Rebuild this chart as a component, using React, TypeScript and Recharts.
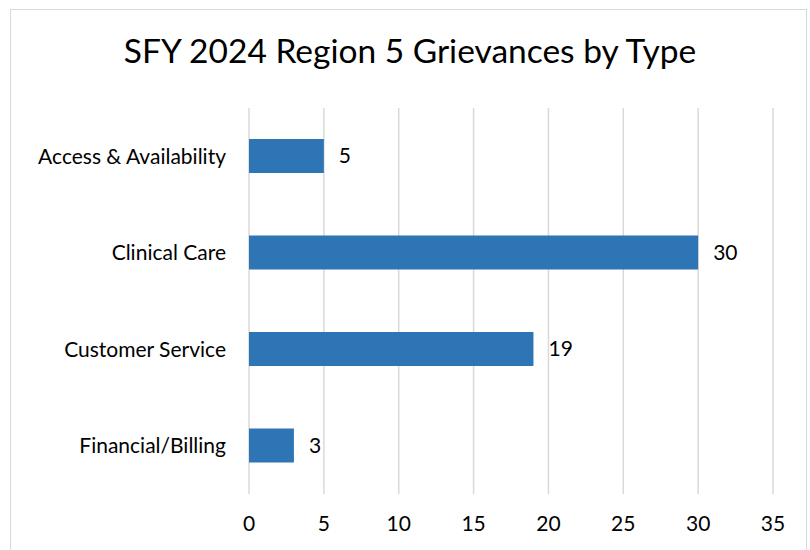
import { Bar, BarChart, CartesianGrid, LabelList, XAxis, YAxis } from 'recharts';

const categories = ['Access & Availability', 'Clinical Care', 'Customer Service', 'Financial/Billing'];
const grievances = [5, 30, 19, 3];
const xTicks = [0, 5, 10, 15, 20, 25, 30, 35];

const data = categories.map((type, i) => ({ type, count: grievances[i] }));

const FONT = 'Lato, "Open Sans", sans-serif';

export default function App() {
  return (
    <div style={{ position: 'absolute', left: 0, top: 0, width: 810, height: 550, overflow: 'hidden', background: '#fff', fontFamily: FONT }}>
      <div style={{ position: 'absolute', left: 10, top: 9, width: 797, height: 560, border: '1.5px solid #d9d9d9', boxSizing: 'border-box' }} />
      <div style={{ position: 'absolute', left: 0, top: 30, width: 820, textAlign: 'center', fontSize: 33.5, color: '#000' }}>
        SFY 2024 Region 5 Grievances by Type
      </div>
      <div style={{ position: 'absolute', left: 0, top: 0 }}>
        <BarChart
          width={810}
          height={550}
          data={data}
          layout="vertical"
          margin={{ top: 108, right: 37, left: 0, bottom: 26 }}
        >
          <CartesianGrid horizontal={false} stroke="#d9d9d9" strokeWidth={1.5} />
          <XAxis
            type="number"
            domain={[0, 35]}
            ticks={xTicks}
            axisLine={false}
            tickLine={false}
            tickSize={0}
            tickMargin={22}
            height={30}
            tick={{ fontSize: 21, fill: '#000', fontFamily: FONT }}
          />
          <YAxis
            type="category"
            dataKey="type"
            width={249}
            axisLine={false}
            tickLine={false}
            tickSize={0}
            tickMargin={23}
            tick={{ fontSize: 21, fill: '#000', fontFamily: FONT }}
          />
          <Bar dataKey="count" fill="#2e75b6" barSize={34} isAnimationActive={false}>
            <LabelList dataKey="count" position="right" offset={15} style={{ fontSize: 21, fill: '#000', fontFamily: FONT }} />
          </Bar>
        </BarChart>
      </div>
    </div>
  );
}
